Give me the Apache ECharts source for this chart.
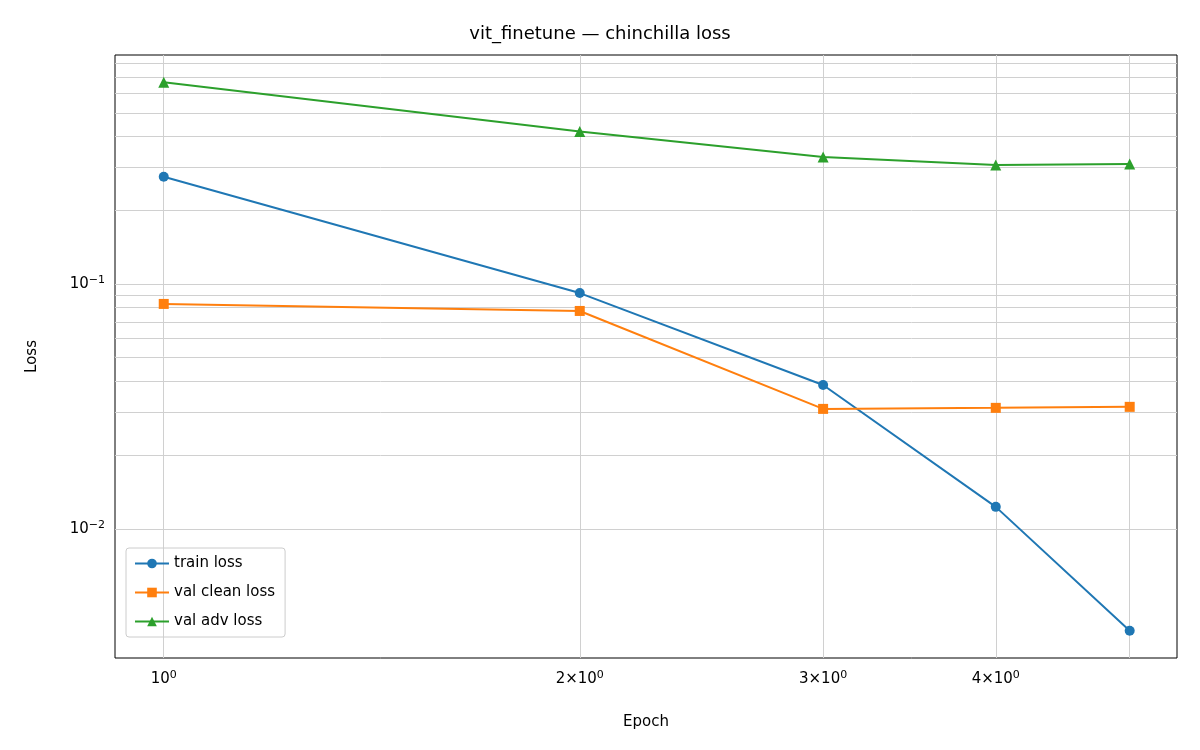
<!DOCTYPE html>
<html lang="en">
<head>
<meta charset="UTF-8"/>
<script src="https://cdn.jsdelivr.net/npm/echarts@6/dist/echarts.min.js"></script>
<title>vit_finetune</title>
</head>
<body style="margin:0">
<div id="main" style="width:1200px;height:750px"></div>
<script type="text/javascript">
var epochs = [1, 2, 3, 4, 5];
var trainLoss = [0.274, 0.0918, 0.0387, 0.0123, 0.00384];
var valCleanLoss = [0.0829, 0.0776, 0.0309, 0.0312, 0.0315];
var valAdvLoss = [0.667, 0.419, 0.330, 0.306, 0.309];
var xTicks = [1, 2, 3, 4];
var xTickLabels = ['10{s|0}', '2×10{s|0}', '3×10{s|0}', '4×10{s|0}'];
var yMajor = [0.01, 0.1];
var yMajorLabels = ['10{s|−2}', '10{s|−1}'];

var yMin = 0.00297, yMax = 0.861;
var font = 'DejaVu Sans';
var rich = { s: { fontSize: 11, verticalAlign: 'top', padding: [0, 0, 8, 0], fontFamily: font, color: '#000' } };

// light grid at every k*10^d inside the range
var gridLines = [];
[-3, -2, -1].forEach(function (d) {
    for (var k = 2; k <= 9; k++) {
        var v = k * Math.pow(10, d);
        if (v > yMin && v < yMax) gridLines.push({ yAxis: v, label: { show: false } });
    }
});
yMajor.forEach(function (v, i) {
    gridLines.push({ yAxis: v,
        label: { show: true, position: 'start', formatter: yMajorLabels[i], distance: 10, rich: rich } });
});
xTicks.forEach(function (v, i) {
    gridLines.push({ xAxis: v,
        label: { show: true, position: 'start', formatter: xTickLabels[i], distance: 12, rich: rich } });
});
gridLines.push({ xAxis: 5, label: { show: false } });

function mk(name, data, color, symbol) {
    return {
        name: name, type: 'line', data: epochs.map(function (e, i) { return [e, data[i]]; }),
        symbol: symbol, symbolSize: symbol === 'triangle' ? 11 : 10,
        itemStyle: { color: color }, lineStyle: { color: color, width: 2 }
    };
}
var s0 = mk('train loss', trainLoss, '#1f77b4', 'circle');
s0.markLine = {
    silent: true, symbol: 'none', animation: false,
    lineStyle: { color: '#d0d0d0', type: 'solid', width: 1 },
    label: { color: '#000', fontFamily: font, fontSize: 15 },
    data: gridLines, z: 0
};

var option = {
    backgroundColor: '#fff',
    textStyle: { fontFamily: font },
    title: { text: 'vit_finetune — chinchilla loss', left: 'center', top: 20,
        textStyle: { fontFamily: font, fontSize: 18, fontWeight: 'normal', color: '#000' } },
    grid: { left: 115, right: 23, top: 55, bottom: 92, show: true, borderColor: '#000', borderWidth: 1 },
    legend: {
        orient: 'vertical', left: 126, top: 548, itemWidth: 34, itemHeight: 12, itemGap: 14,
        padding: [8, 10, 8, 8], borderColor: '#ccc', borderWidth: 1, borderRadius: 3,
        textStyle: { fontFamily: font, fontSize: 15, color: '#000' }
    },
    xAxis: {
        type: 'log', min: 0.922, max: 5.41, name: 'Epoch', nameLocation: 'middle', nameGap: 57,
        nameTextStyle: { fontFamily: font, fontSize: 15, color: '#000' },
        axisLine: { show: false }, axisTick: { show: false }, axisLabel: { show: false }, splitLine: { show: false }
    },
    yAxis: {
        type: 'log', min: yMin, max: yMax, name: 'Loss', nameLocation: 'middle', nameGap: 75,
        nameTextStyle: { fontFamily: font, fontSize: 15, color: '#000' },
        axisLine: { show: false }, axisTick: { show: false }, axisLabel: { show: false }, splitLine: { show: false }
    },
    series: [s0,
        mk('val clean loss', valCleanLoss, '#ff7f0e', 'rect'),
        mk('val adv loss', valAdvLoss, '#2ca02c', 'triangle')]
};
echarts.init(document.getElementById('main')).setOption(option);
</script>
</body>
</html>
